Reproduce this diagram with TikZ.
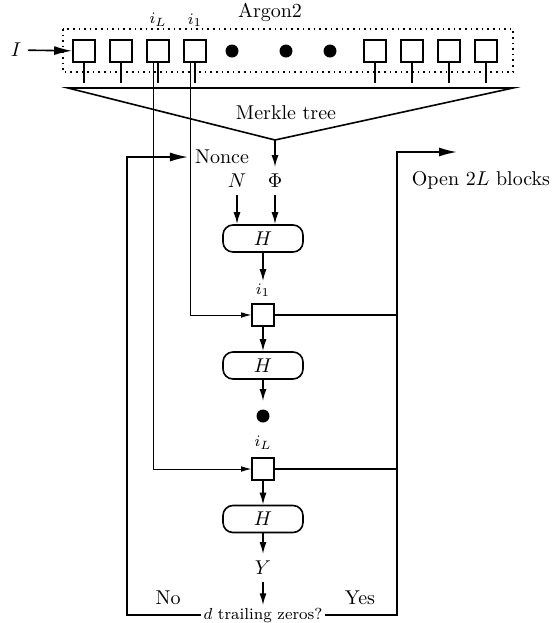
\documentclass[tikz,border=0pt]{standalone}
\usepackage{amsmath}
\usetikzlibrary{arrows.meta,positioning}

\begin{document}
\begin{tikzpicture}[x=0.5pt,y=-0.5pt,>=Latex,
  blk/.style={draw,thick,minimum size=11pt,inner sep=0pt},
  hbox/.style={draw,thick,rounded corners=5pt,minimum width=40pt,minimum height=13.5pt,inner sep=0pt},
  blob/.style={circle,fill=black,minimum size=6.5pt,inner sep=0pt},
  idx/.style={font=\footnotesize,inner sep=1pt},
  arr/.style={thick,-{Latex[length=6pt,width=3.5pt]}},
  bigarr/.style={thick,-{Latex[length=9pt,width=4.5pt]}},
  thinarr/.style={-{Latex[length=5pt,width=2.8pt]}}]
\useasboundingbox (0,0) rectangle (553,623);
% Argon2 memory
\draw[thick,dotted] (63,29) rectangle (513,72);
\node (argon) at (270,12) {Argon2};
\node (blk1) [blk] at (84,51) {};
\node (blk2) [blk] at (121,51) {};
\node (blk3) [blk] at (158,51) {};
\node (blk4) [blk] at (195,51) {};
\node (dot1) [blob] at (232,51) {};
\node (dot2) [blob] at (286,51) {};
\node (dot3) [blob] at (330,51) {};
\node (blk5) [blk] at (375,51) {};
\node (blk6) [blk] at (412,51) {};
\node (blk7) [blk] at (449,51) {};
\node (blk8) [blk] at (486,51) {};
\node (lblL) [idx] at (158,20) {$i_L$};
\node (lbl1) [idx] at (195,20) {$i_1$};
\node (inp) at (16,50) {$I$};
\draw[bigarr] (inp) -- (blk1);
\foreach \b in {blk1,blk2,blk3,blk4,blk5,blk6,blk7,blk8}
  \draw[thick] (\b.south) -- ++(0,20);
% Merkle tree
\coordinate (tl) at (68,88);
\coordinate (tr) at (513,88);
\coordinate (apex) at (275,140);
\draw[thick] (tl) -- (tr) -- (apex) -- cycle;
\node (merkle) at (286,113) {Merkle tree};
% hashing chain
\node (nonce) at (222,157) {Nonce};
\node (nv) at (237,181) {$N$};
\node (phi) at (275,181) {$\Phi$};
\node (hash1) [hbox] at (263,238.5) {$H$};
\node (lab1) [idx] at (263,290) {$i_1$};
\node (sq1) [blk] at (263,315) {};
\node (hash2) [hbox] at (263,365.5) {$H$};
\node (mid) [blob] at (263,416) {};
\node (labL) [idx] at (263,443) {$i_L$};
\node (sqL) [blk] at (263,469) {};
\node (hash3) [hbox] at (263,519) {$H$};
\node (yout) at (263,568) {$Y$};
\node (test) [font=\footnotesize,inner sep=1pt] at (263,615) {$d$ trailing zeros?};
\node (no) at (168,598) {No};
\node (yes) at (360,598) {Yes};
\node (opentxt) at (481,180) {Open $2L$ blocks};
\coordinate (open) at (457,152);
\coordinate (lft) at (127,400);
\coordinate (rgt) at (397,400);
\draw[arr] (apex) -- (phi);
\draw[arr] (nv) -- (nv |- hash1.north);
\draw[arr] (phi) -- (phi |- hash1.north);
\draw[arr] (hash1) -- (lab1);
\draw[arr] (sq1) -- (hash2);
\draw[arr,shorten >=4pt] (hash2) -- (mid);
\draw[arr] (sqL) -- (hash3);
\draw[arr] (hash3) -- (yout);
\draw[arr] (yout) -- (test);
\draw[thinarr] ([xshift=-2.5pt]blk4.south) |- (sq1.west);
\draw[thinarr] ([xshift=-2.5pt]blk3.south) |- (sqL.west);
\draw[bigarr] (test.west) -| (lft) |- (nonce.west);
\draw[bigarr] (test.east) -| (rgt) |- (open);
\draw[thick] (sq1.east) -- (sq1.east -| rgt);
\draw[thick] (sqL.east) -- (sqL.east -| rgt);
\end{tikzpicture}
\end{document}
